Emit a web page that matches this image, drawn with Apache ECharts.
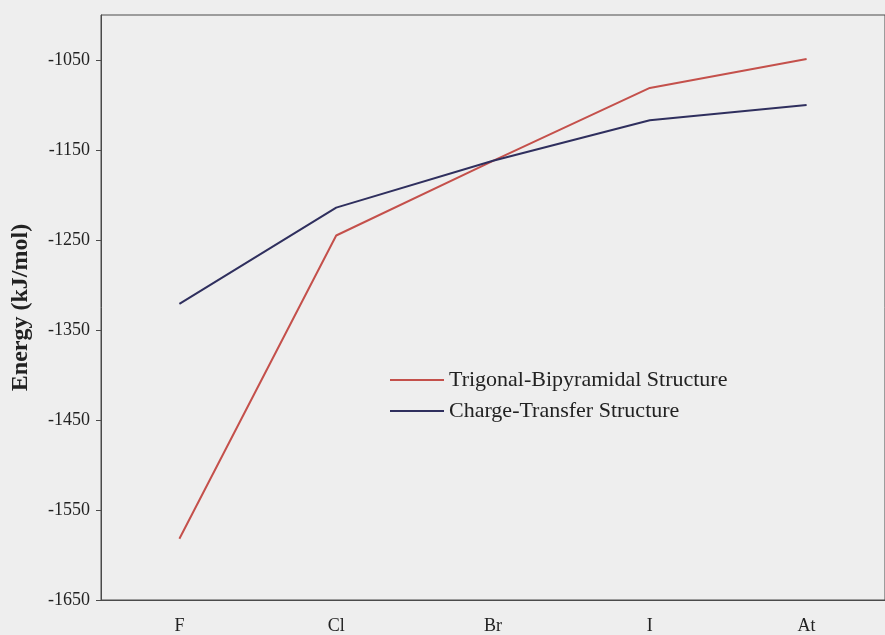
<!DOCTYPE html>
<html>
<head>
<meta charset="utf-8">
<script src="https://cdn.jsdelivr.net/npm/echarts@6/dist/echarts.min.js"></script>
<style>
  html, body { margin: 0; padding: 0; background: #eeeeee; }
  #chart { width: 885px; height: 635px; }
</style>
</head>
<body>
<div id="chart"></div>
<script>
// Halogens along the x axis
const halogens = ['F', 'Cl', 'Br', 'I', 'At'];

// Energies (kJ/mol) of the two structures
const trigonalBipyramidal = [-1582, -1245, -1162, -1081, -1049];
const chargeTransfer = [-1321, -1214, -1162, -1117, -1100];

// Labelled values on the energy axis
const energyTicks = [-1650, -1550, -1450, -1350, -1250, -1150, -1050];

const serif = '"Liberation Serif", "Times New Roman", serif';

const chart = echarts.init(document.getElementById('chart'));
chart.setOption({
  backgroundColor: '#eeeeee',
  animation: false,
  grid: {
    left: 101, top: 15, width: 785, height: 585,
    show: true, borderColor: '#4a4a4a', borderWidth: 1, backgroundColor: 'transparent'
  },
  legend: {
    left: 390, top: 369,
    padding: 0,
    orient: 'vertical',
    icon: 'rect',
    itemWidth: 54, itemHeight: 2,
    itemGap: 9,
    textStyle: { fontFamily: serif, fontSize: 22, color: '#222', lineHeight: 22 },
    data: ['Trigonal-Bipyramidal Structure', 'Charge-Transfer Structure']
  },
  xAxis: {
    type: 'category',
    data: halogens,
    boundaryGap: true,
    axisLine: { lineStyle: { color: '#4a4a4a', width: 1 } },
    axisTick: { show: false },
    axisLabel: { fontFamily: serif, fontSize: 18, color: '#222', margin: 17 }
  },
  yAxis: {
    type: 'value',
    min: -1650, max: -1000,
    name: 'Energy (kJ/mol)',
    nameLocation: 'middle',
    nameGap: 68,
    nameTextStyle: { fontFamily: serif, fontSize: 24, fontWeight: 'bold', color: '#222' },
    axisLine: { show: true, lineStyle: { color: '#4a4a4a', width: 1 } },
    axisTick: { show: true, length: 5, lineStyle: { color: '#4a4a4a' }, customValues: energyTicks },
    axisLabel: {
      fontFamily: serif, fontSize: 18, color: '#222', margin: 11,
      customValues: energyTicks,
      formatter: (v) => String(v)
    },
    splitLine: { show: false }
  },
  series: [
    {
      name: 'Trigonal-Bipyramidal Structure',
      type: 'line',
      data: trigonalBipyramidal,
      symbol: 'none',
      lineStyle: { color: '#c4504b', width: 2 },
      itemStyle: { color: '#c4504b' }
    },
    {
      name: 'Charge-Transfer Structure',
      type: 'line',
      data: chargeTransfer,
      symbol: 'none',
      lineStyle: { color: '#2f2f5e', width: 2 },
      itemStyle: { color: '#2f2f5e' }
    }
  ]
});
</script>
</body>
</html>
